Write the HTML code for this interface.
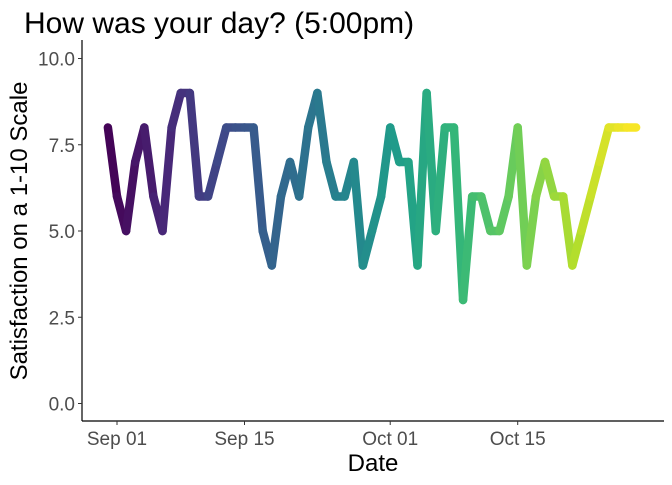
<!DOCTYPE html>
<html><head><meta charset="utf-8"><style>
body{margin:0;background:#fff;}
svg text{font-family:"Liberation Sans",Arial,sans-serif;}
</style></head><body>
<svg id="chart" width="672" height="480" viewBox="0 0 672 480" xmlns="http://www.w3.org/2000/svg">
<text x="24" y="33" font-size="30" fill="#000">How was your day? (5:00pm)</text>
<g id="marks"></g>
<g id="axes"></g>
<text x="373" y="471" font-size="24" text-anchor="middle" fill="#000">Date</text>
<text transform="translate(27,231) rotate(-90)" font-size="24" text-anchor="middle" fill="#000">Satisfaction on a 1-10 Scale</text>
</svg>
<script>
// day offsets from Sep 01
const dayOffsets = [-1,0,1,2,3,4,5,6,7,8,9,10,11,12,13,14,15,16,17,18,19,20,21,22,23,24,25,26,27,28,29,30,31,32,33,34,35,36,37,38,39,40,41,42,43,44,45,46,47,48,49,50,51,52,53,54,55,56,57];
const satisfaction = [8,6,5,7,8,6,5,8,9,9,6,6,7,8,8,8,8,5,4,6,7,6,8,9,7,6,6,7,4,5,6,8,7,7,4,9,5,8,8,3,6,6,5,5,6,8,4,6,7,6,6,4,5,6,7,8,8,8,8];
const xTickDays = [0,14,30,44];
const xTickLabels = ["Sep 01","Sep 15","Oct 01","Oct 15"];
const yTicks = [0,2.5,5,7.5,10];
const yTickLabels = ["0.0","2.5","5.0","7.5","10.0"];

const NS="http://www.w3.org/2000/svg";
const X0=82, Y1=421;
function xScale(d){return 117 + d*9.107;}
function yScale(v){return 403.5 - v*34.5;}
const vir=[[68,1,84],[72,40,120],[62,74,137],[49,104,142],[38,130,142],[31,158,137],[53,183,121],[109,205,89],[180,222,44],[253,231,37]];
function viridis(t){t=Math.max(0,Math.min(1,t));const p=t*(vir.length-1),i=Math.min(Math.floor(p),vir.length-2),f=p-i;
 const c=vir[i].map((a,k)=>Math.round(a+(vir[i+1][k]-a)*f));return `rgb(${c[0]},${c[1]},${c[2]})`;}
const marks=document.getElementById('marks');
const dmin=Math.min(...dayOffsets), dmax=Math.max(...dayOffsets);
for(let i=0;i<dayOffsets.length-1;i++){
  const l=document.createElementNS(NS,'line');
  
  
  l.setAttribute('x1',xScale(dayOffsets[i]));l.setAttribute('y1',yScale(satisfaction[i]));
  l.setAttribute('x2',xScale(dayOffsets[i+1]));l.setAttribute('y2',yScale(satisfaction[i+1]));
  l.setAttribute('stroke',viridis(((dayOffsets[i]+dayOffsets[i+1])/2-dmin)/(dmax-dmin)));
  l.setAttribute('stroke-width','8.5');l.setAttribute('stroke-linecap','round');
  marks.appendChild(l);
}
const axes=document.getElementById('axes');
function add(tag,attrs,name,txt){const e=document.createElementNS(NS,tag);for(const k in attrs)e.setAttribute(k,attrs[k]);
  
  
  if(txt!==undefined)e.textContent=txt;axes.appendChild(e);return e;}
add('line',{x1:X0,y1:40,x2:X0,y2:Y1,stroke:'#000','stroke-width':1.2},'y-axis-line');
add('line',{x1:X0,y1:Y1,x2:664,y2:Y1,stroke:'#000','stroke-width':1.2},'x-axis-line');
yTicks.forEach((v,i)=>{const y=yScale(v);
  add('line',{x1:X0-4,y1:y,x2:X0,y2:y,stroke:'#333','stroke-width':1},'y-tick');
  add('text',{x:X0-7,y:y+7,'font-size':19,'text-anchor':'end',fill:'#4d4d4d'},'y-tick-label',yTickLabels[i]);});
xTickDays.forEach((d,i)=>{const x=xScale(d);
  add('line',{x1:x,y1:Y1,x2:x,y2:Y1+4,stroke:'#333','stroke-width':1},'x-tick');
  add('text',{x:x,y:Y1+24,'font-size':19,'text-anchor':'middle',fill:'#4d4d4d'},'x-tick-label',xTickLabels[i]);});
</script>
</body></html>
